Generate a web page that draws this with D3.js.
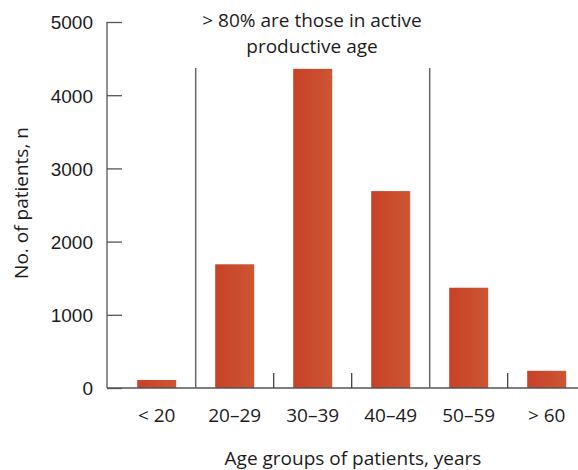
<!DOCTYPE html>
<html lang="en">
<head>
<meta charset="UTF-8">
<title>Patients by age group</title>
<script src="https://d3js.org/d3.v7.min.js"></script>
<style>
  body { margin: 0; background: #fff; }
  svg { display: block; font-family: "Open Sans", sans-serif; }
  .axis path, .axis line { stroke: #555; stroke-width: 1.3; }
  .axis text { fill: #1e1b1c; font-size: 19px; }
  .label { fill: #1e1b1c; font-size: 19px; }
</style>
</head>
<body>
<div id="chart"></div>
<script>
const ageGroups = ["< 20", "20–29", "30–39", "40–49", "50–59", "> 60"];
const patients = [110, 1690, 4360, 2690, 1370, 235];
const yTicks = [0, 1000, 2000, 3000, 4000, 5000];
const dividerAfter = ["< 20", "40–49"];   // solid lines bracketing the productive ages
const annotation = ["> 80% are those in active", "productive age"];

const width = 578, height = 470;
const axisX = 107, y0 = 388, yTop = 22;

const svg = d3.select("#chart").append("svg")
    .attr("width", width)
    .attr("height", height);

const grad = svg.append("defs").append("linearGradient")
    .attr("id", "barFill")
    .attr("x1", "0%").attr("x2", "100%");
grad.append("stop").attr("offset", "0%").attr("stop-color", "#c84128");
grad.append("stop").attr("offset", "100%").attr("stop-color", "#cd5633");

const x = d3.scaleBand()
    .domain(ageGroups)
    .range([117.7, 585.7])
    .paddingInner(0.5)
    .paddingOuter(0.25);

const y = d3.scaleLinear().domain([0, 5000]).range([y0, yTop]);

// bars
svg.selectAll(".bar")
    .data(ageGroups)
    .enter().append("rect")
    .attr("class", "bar")
    .attr("x", d => x(d))
    .attr("width", x.bandwidth())
    .attr("y", (d, i) => y(patients[i]))
    .attr("height", (d, i) => y0 - y(patients[i]))
    .attr("fill", "url(#barFill)");

// y axis, ticks pointing inward
const yAxis = svg.append("g")
    .attr("class", "axis")
    .attr("transform", "translate(" + axisX + ",0)")
    .call(d3.axisRight(y).tickValues(yTicks).tickSize(15).tickSizeOuter(0).tickFormat(d3.format("d")));
yAxis.select(".domain").remove();
yAxis.selectAll("text")
    .attr("x", -14)
    .attr("dy", "0.36em")
    .attr("text-anchor", "end");
svg.append("line")
    .attr("x1", axisX).attr("x2", axisX)
    .attr("y1", y(5000)).attr("y2", y0)
    .attr("stroke", "#555").attr("stroke-width", 1.3);

// x baseline
svg.append("line")
    .attr("x1", axisX).attr("x2", width)
    .attr("y1", y0).attr("y2", y0)
    .attr("stroke", "#555").attr("stroke-width", 1.3);

// boundary marks between groups
const step = x.step();
const boundaries = ageGroups.slice(0, -1);
svg.selectAll(".boundary")
    .data(boundaries)
    .enter().append("line")
    .attr("class", "boundary")
    .attr("x1", d => x(d) + x.bandwidth() + (step - x.bandwidth()) / 2)
    .attr("x2", d => x(d) + x.bandwidth() + (step - x.bandwidth()) / 2)
    .attr("y1", d => dividerAfter.includes(d) ? 68 : y0 - 15)
    .attr("y2", y0)
    .attr("stroke", d => dividerAfter.includes(d) ? "#666" : "#333")
    .attr("stroke-width", d => dividerAfter.includes(d) ? 1.5 : 1.2);

// category labels
svg.selectAll(".xlab")
    .data(ageGroups)
    .enter().append("text")
    .attr("class", "label")
    .attr("x", d => x(d) + x.bandwidth() / 2)
    .attr("y", 422)
    .attr("text-anchor", "middle")
    .text(d => d);

// axis titles
svg.append("text")
    .attr("class", "label")
    .attr("x", 353).attr("y", 465)
    .attr("text-anchor", "middle")
    .text("Age groups of patients, years");

svg.append("text")
    .attr("class", "label")
    .attr("transform", "translate(28,203) rotate(-90)")
    .attr("text-anchor", "middle")
    .text("No. of patients, n");

// annotation
svg.selectAll(".note")
    .data(annotation)
    .enter().append("text")
    .attr("class", "label")
    .attr("x", 312)
    .attr("y", (d, i) => 27 + i * 26)
    .attr("text-anchor", "middle")
    .text(d => d);
</script>
</body>
</html>
